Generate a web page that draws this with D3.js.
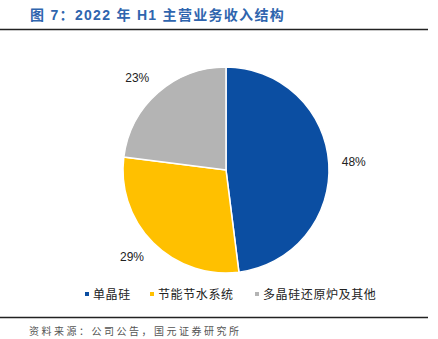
<!DOCTYPE html>
<html><head><meta charset="utf-8">
<script src="https://cdn.jsdelivr.net/npm/d3@7"></script>
<style>body{margin:0;background:#fff}svg{display:block}</style>
</head><body>
<svg id="c" width="438" height="339"></svg>
<script>
const categories = ["单晶硅", "节能节水系统", "多晶硅还原炉及其他"];
const values = [48, 29, 23];
const colors = ["#0B4EA2", "#FFC000", "#B4B4B4"];
const titleText = "图 7：2022 年 H1 主营业务收入结构";
const sourceText = "资料来源：公司公告，国元证券研究所";

const svg = d3.select("#c");

svg.append("text").attr("x", 30).attr("y", 20)
  .attr("font-family", "Liberation Sans, Noto Sans CJK SC, sans-serif")
  .attr("font-size", 14).attr("font-weight", "bold").attr("fill", "#2F65AE")
  .attr("letter-spacing", 1.3)
  .text(titleText);
svg.append("line").attr("x1", 0).attr("x2", 428).attr("y1", 29.5).attr("y2", 29.5)
  .attr("stroke", "#222").attr("stroke-width", 1.6);

const cx = 226, cy = 170, r = 103;
const pie = d3.pie().sort(null).value(d => d)(values);
const arc = d3.arc().innerRadius(0).outerRadius(r);
const g = svg.append("g").attr("transform", `translate(${cx},${cy})`);
g.selectAll("path").data(pie).join("path")
  .attr("d", arc).attr("fill", (d, i) => colors[i])
  .attr("stroke", "#fff").attr("stroke-width", 1.5);

const rx = r + 13, ry = r + 20;
g.selectAll("text.lab").data(pie).join("text")
  .attr("class", "lab")
  .each(function (d) {
    const a = (d.startAngle + d.endAngle) / 2;
    const x = Math.sin(a) * rx, y = -Math.cos(a) * ry;
    d3.select(this).attr("x", x).attr("y", y)
      .attr("text-anchor", x >= 0 ? "start" : "end");
  })
  .attr("dy", "0.35em")
  .attr("font-family", "Liberation Sans, Arial, sans-serif").attr("font-size", 12).attr("fill", "#222")
  .text(d => d.data + "%");

const legX = [85, 150, 255];
const leg = svg.append("g");
categories.forEach((c, i) => {
  leg.append("rect").attr("x", legX[i]).attr("y", 292).attr("width", 4).attr("height", 4).attr("fill", colors[i]);
  leg.append("text").attr("x", legX[i] + 8).attr("y", 299)
    .attr("font-family", "Noto Sans CJK SC, sans-serif").attr("font-size", 12).attr("fill", "#222")
    .attr("letter-spacing", 0.6)
    .text(c);
});

svg.append("line").attr("x1", 0).attr("x2", 428).attr("y1", 317.5).attr("y2", 317.5)
  .attr("stroke", "#222").attr("stroke-width", 1.6);
svg.append("text").attr("x", 29).attr("y", 335)
  .attr("font-family", "Noto Sans CJK SC, sans-serif").attr("font-size", 10).attr("fill", "#555")
  .attr("letter-spacing", 2.5)
  .text(sourceText);
</script>
</body></html>
